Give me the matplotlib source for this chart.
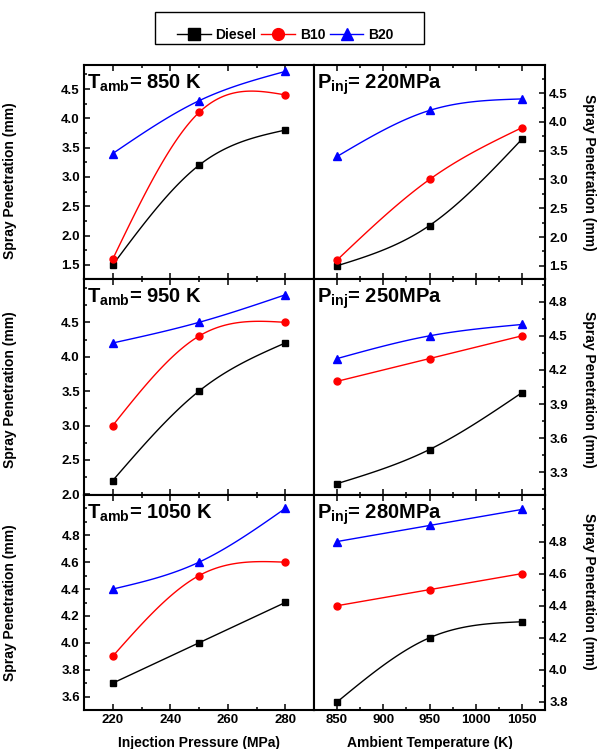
import matplotlib
matplotlib.use('Agg')
import matplotlib.pyplot as plt
import numpy as np
from matplotlib.ticker import FixedLocator, AutoMinorLocator
from matplotlib.lines import Line2D
from matplotlib.patches import Rectangle

plt.rcParams['font.family'] = ['Liberation Sans', 'DejaVu Sans']
plt.rcParams['font.weight'] = 'bold'
plt.rcParams['mathtext.fontset'] = 'custom'
plt.rcParams['mathtext.rm'] = 'Liberation Sans:bold'
plt.rcParams['mathtext.bf'] = 'Liberation Sans:bold'
plt.rcParams['mathtext.it'] = 'Liberation Sans:bold'

pressure = [220, 250, 280]
temperature = [850, 950, 1050]

# left column: penetration vs injection pressure, one panel per ambient temp
tamb_labels = ['850 K', '950 K', '1050 K']
diesel_p = [[1.5, 3.2, 3.8], [2.2, 3.5, 4.2], [3.7, 4.0, 4.3]]
b10_p = [[1.6, 4.1, 4.4], [3.0, 4.3, 4.5], [3.9, 4.5, 4.6]]
b20_p = [[3.4, 4.3, 4.8], [4.2, 4.5, 4.9], [4.4, 4.6, 5.0]]

# right column: penetration vs ambient temperature, one panel per inj. pressure
pinj_labels = ['220MPa', '250MPa', '280MPa']
diesel_t = [[1.5, 2.2, 3.7], [3.2, 3.5, 4.0], [3.8, 4.2, 4.3]]
b10_t = [[1.6, 3.0, 3.9], [4.1, 4.3, 4.5], [4.4, 4.5, 4.6]]
b20_t = [[3.4, 4.2, 4.4], [4.3, 4.5, 4.6], [4.8, 4.9, 5.0]]

fuels = ['Diesel', 'B10', 'B20']
colors = ['black', 'red', 'blue']
markers = ['s', 'o', '^']

left_yticks = [[1.5, 2.0, 2.5, 3.0, 3.5, 4.0, 4.5],
               [2.0, 2.5, 3.0, 3.5, 4.0, 4.5],
               [3.6, 3.8, 4.0, 4.2, 4.4, 4.6, 4.8]]
left_ylim = [(1.26, 4.91), (1.99, 5.13), (3.5, 5.1)]
right_yticks = [[1.5, 2.0, 2.5, 3.0, 3.5, 4.0, 4.5],
                [3.3, 3.6, 3.9, 4.2, 4.5, 4.8],
                [3.8, 4.0, 4.2, 4.4, 4.6, 4.8]]
right_ylim = [(1.27, 4.99), (3.1, 5.0), (3.75, 5.09)]


def spline(x, y, n=80):
    # natural cubic spline, like the Origin "spline" connector
    x = np.asarray(x, float)
    y = np.asarray(y, float)
    k = len(x)
    h = np.diff(x)
    A = np.zeros((k, k))
    r = np.zeros(k)
    A[0, 0] = A[-1, -1] = 1
    for i in range(1, k - 1):
        A[i, i - 1] = h[i - 1]
        A[i, i] = 2 * (h[i - 1] + h[i])
        A[i, i + 1] = h[i]
        r[i] = 6 * ((y[i + 1] - y[i]) / h[i] - (y[i] - y[i - 1]) / h[i - 1])
    M = np.linalg.solve(A, r)
    xs = np.linspace(x[0], x[-1], n)
    idx = np.clip(np.searchsorted(x, xs) - 1, 0, k - 2)
    x0, x1 = x[idx], x[idx + 1]
    hh = x1 - x0
    ys = (M[idx] * (x1 - xs) ** 3 + M[idx + 1] * (xs - x0) ** 3) / (6 * hh) \
        + (y[idx] / hh - M[idx] * hh / 6) * (x1 - xs) \
        + (y[idx + 1] / hh - M[idx + 1] * hh / 6) * (xs - x0)
    return xs, ys


fig = plt.figure(figsize=(6.04, 7.49), dpi=100)
W, H = 604.0, 749.0
rows = [(65, 279), (279, 495), (495, 710)]
colx = [(84, 314), (314, 545)]


def style(ax):
    for s in ax.spines.values():
        s.set_linewidth(1.5)
    ax.tick_params(which='both', direction='in', width=1.1, labelsize=9.5, top=True)
    ax.tick_params(which='major', length=4, pad=3)
    ax.tick_params(which='minor', length=2)
    ax.yaxis.set_minor_locator(AutoMinorLocator(2))
    ax.xaxis.set_minor_locator(AutoMinorLocator(2))


for r, (top, bot) in enumerate(rows):
    for c, (x0, x1) in enumerate(colx):
        ax = fig.add_axes([x0 / W, 1 - bot / H, (x1 - x0) / W, (bot - top) / H])
        style(ax)
        if c == 0:
            xv = pressure
            series = [diesel_p[r], b10_p[r], b20_p[r]]
            ax.set_xlim(210, 290)
            ax.xaxis.set_major_locator(FixedLocator([220, 240, 260, 280]))
            ax.yaxis.set_major_locator(FixedLocator(left_yticks[r]))
            ax.set_ylim(*left_ylim[r])
            ax.tick_params(axis='y', which='both', left=True, right=False)
            ax.set_ylabel('Spray Penetration (mm)', fontsize=10, fontweight='bold')
            ax.yaxis.set_label_coords(-0.29, [0.46, 0.49, 0.5][r])
            title = r'$\mathbf{T_{amb}}$= ' + tamb_labels[r]
            xlab = 'Injection Pressure (MPa)'
        else:
            xv = temperature
            series = [diesel_t[r], b10_t[r], b20_t[r]]
            ax.set_xlim(825, 1075)
            ax.xaxis.set_major_locator(FixedLocator([850, 900, 950, 1000, 1050]))
            ax.yaxis.set_major_locator(FixedLocator(right_yticks[r]))
            ax.set_ylim(*right_ylim[r])
            ax.yaxis.tick_right()
            ax.yaxis.set_label_position('right')
            ax.tick_params(axis='y', which='both', left=False, right=True,
                           labelleft=False, labelright=True)
            ax.set_ylabel('Spray Penetration (mm)', fontsize=10, fontweight='bold',
                          rotation=270, va='center')
            ax.yaxis.set_label_coords(1.19, [0.5, 0.49, 0.55][r])
            title = r'$\mathbf{P_{inj}}$= ' + pinj_labels[r]
            xlab = 'Ambient Temperature (K)'

        for vals, col, mk in zip(series, colors, markers):
            xs, ys = spline(xv, vals)
            ax.plot(xs, ys, color=col, lw=1.0)
            ax.plot(xv, vals, linestyle='none', marker=mk, color=col,
                    markersize=5.5 if mk == '^' else 5, clip_on=False)

        ax.text(0.013, 1 - 24.0 / (bot - top), title, transform=ax.transAxes,
                fontsize=14.5, fontweight='bold', va='baseline', ha='left')

        if r < 2:
            ax.tick_params(axis='x', labelbottom=False)
        else:
            ax.set_xlabel(xlab, fontsize=10, fontweight='bold')
            ax.xaxis.set_label_coords(0.5, -0.12)

# legend with an Origin-like box
fig.add_artist(Rectangle((155 / W, 1 - 44 / H), 269 / W, 32 / H,
                         transform=fig.transFigure, fill=False,
                         edgecolor='black', linewidth=1.0))
handles = [Line2D([], [], color=c, marker=m, lw=1.0, markersize=8.5)
           for c, m in zip(colors, markers)]
fig.legend(handles, fuels, loc='center', bbox_to_anchor=(285.5 / W, 1 - 35 / H),
           ncol=3, frameon=False, fontsize=10, handlelength=2.4,
           handletextpad=0.35, columnspacing=0.35, borderpad=0.0)

fig.savefig('out.png', dpi=100)
